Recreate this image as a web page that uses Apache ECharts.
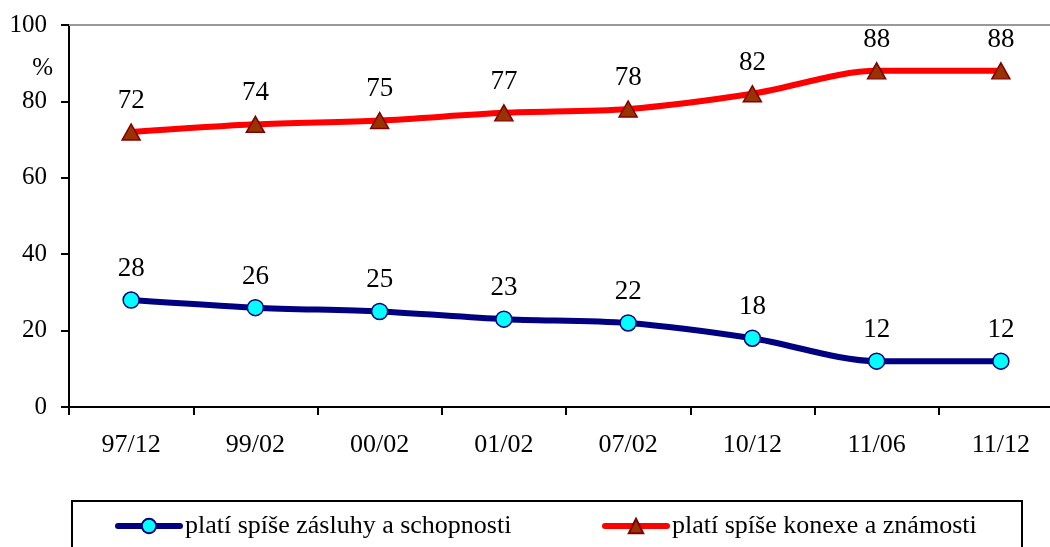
<!DOCTYPE html>
<html><head><meta charset="utf-8">
<script src="https://cdn.jsdelivr.net/npm/echarts@6/dist/echarts.min.js"></script>
<style>html,body{margin:0;padding:0;background:#fff}#c{width:1050px;height:547px}</style>
</head><body><div id="c"></div>
<script>
const categories = ['97/12','99/02','00/02','01/02','07/02','10/12','11/06','11/12'];
const meritValues = [28, 26, 25, 23, 22, 18, 12, 12];
const connectionValues = [72, 74, 75, 77, 78, 82, 88, 88];
const seriesNames = ['platí spíše zásluhy a schopnosti', 'platí spíše konexe a známosti'];
const yTicks = [0, 20, 40, 60, 80, 100];

const FONT = '"Liberation Serif", "Times New Roman", serif';
const chart = echarts.init(document.getElementById('c'), null, {renderer: 'canvas'});
chart.setOption({
  animation: false,
  backgroundColor: '#fff',
  textStyle: {fontFamily: FONT, color: '#000'},
  grid: {left: 69, width: 994, top: 25, height: 382, containLabel: false, outerBoundsMode: 'none'},
  xAxis: [{
    type: 'category', data: categories, boundaryGap: true,
    axisLine: {lineStyle: {color: '#000', width: 2}},
    axisTick: {show: true, length: 8, lineStyle: {color: '#000', width: 2}},
    axisLabel: {fontFamily: FONT, fontSize: 26, color: '#000', margin: 25},
    splitLine: {show: false}
  }, {
    type: 'category', data: categories, position: 'top', boundaryGap: true,
    axisLine: {show: true, lineStyle: {color: '#999999', width: 2}},
    axisTick: {show: false}, axisLabel: {show: false}, splitLine: {show: false}
  }],
  yAxis: {
    type: 'value', min: yTicks[0], max: yTicks[yTicks.length-1], interval: 20,
    name: '%', nameLocation: 'end', nameGap: -56,
    nameTextStyle: {fontFamily: FONT, fontSize: 25, color: '#000', align: 'right', padding: [0, 16, 0, 0]},
    axisLine: {show: true, lineStyle: {color: '#000', width: 2}},
    axisTick: {show: true, length: 8, lineStyle: {color: '#000', width: 2}},
    axisLabel: {fontFamily: FONT, fontSize: 25, color: '#000', margin: 22},
    splitLine: {show: false}
  },
  legend: [{
    data: [seriesNames[0]], left: 115, top: 513, itemWidth: 62, itemHeight: 18, itemGap: 0,
    lineStyle: {width: 6, cap: 'round'},
    textStyle: {fontFamily: FONT, fontSize: 26, color: '#000'}, padding: 0
  }, {
    data: [seriesNames[1]], left: 602, top: 513, itemWidth: 62, itemHeight: 18, itemGap: 0,
    lineStyle: {width: 6, cap: 'round'},
    textStyle: {fontFamily: FONT, fontSize: 26, color: '#000'}, padding: 0
  }],
  graphic: [{
    type: 'rect', shape: {x: 72, y: 501, width: 950, height: 60},
    style: {fill: 'none', stroke: '#000', lineWidth: 2}, silent: true, z: 0
  }],
  series: [{
    name: seriesNames[0], type: 'line', data: meritValues, smooth: 0.3,
    lineStyle: {color: '#000080', width: 6, cap: 'round'},
    itemStyle: {color: '#00FFFF', borderColor: '#000080', borderWidth: 1.5},
    symbol: 'circle', symbolSize: 16, showAllSymbol: true,
    label: {show: true, position: 'top', distance: 9, fontFamily: FONT, fontSize: 27, color: '#000'}
  }, {
    name: seriesNames[1], type: 'line', data: connectionValues, smooth: 0.3,
    lineStyle: {color: '#FF0000', width: 6, cap: 'round'},
    itemStyle: {color: '#993300', borderColor: '#800000', borderWidth: 1.5},
    symbol: 'triangle', symbolSize: [18, 16], showAllSymbol: true,
    label: {show: true, position: 'top', distance: 9, fontFamily: FONT, fontSize: 27, color: '#000'}
  }]
});
</script></body></html>
